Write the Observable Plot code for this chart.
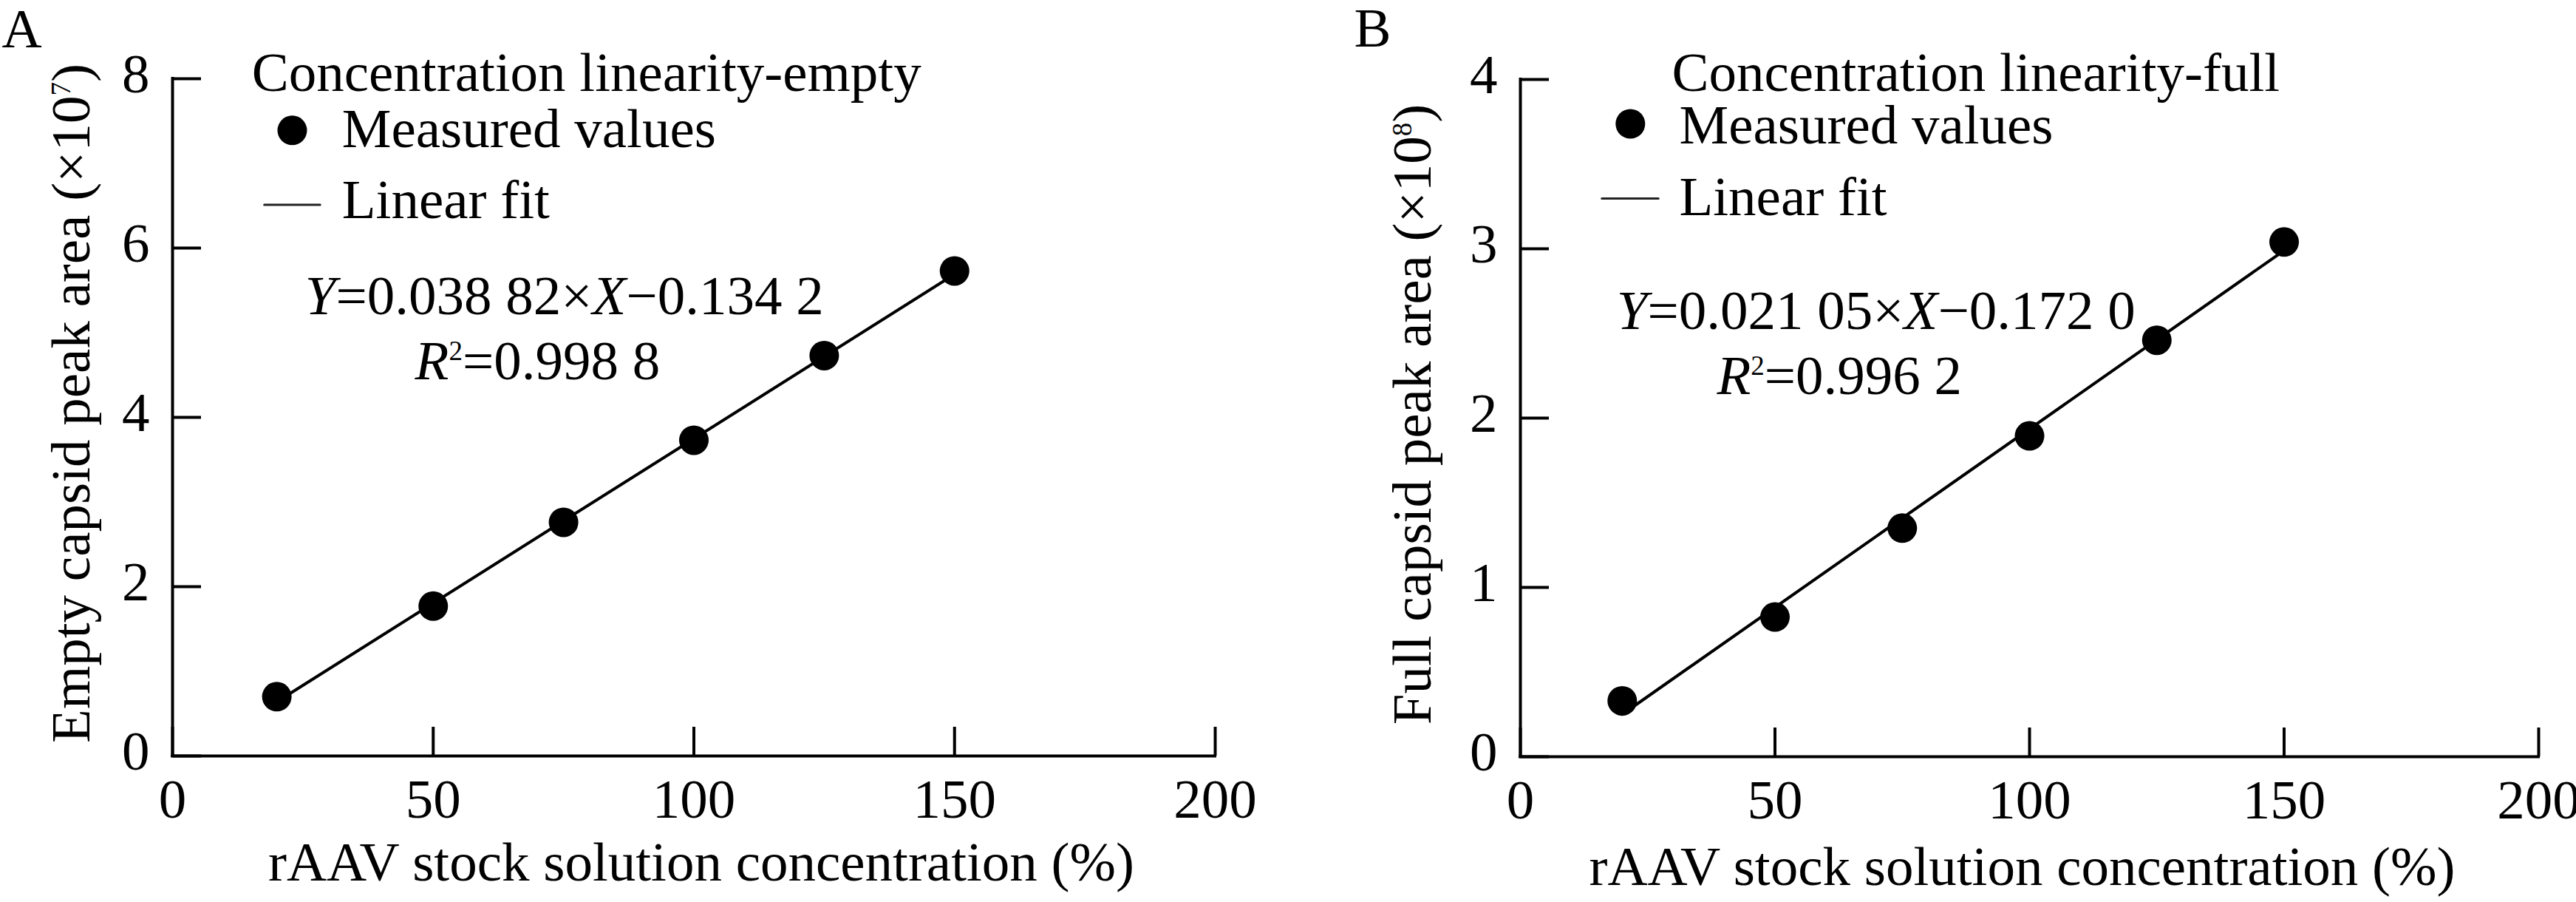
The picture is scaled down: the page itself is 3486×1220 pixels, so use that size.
<!DOCTYPE html>
<html>
<head>
<meta charset="utf-8">
<script src="https://cdn.jsdelivr.net/npm/d3@7"></script>
<script src="https://cdn.jsdelivr.net/npm/@observablehq/plot@0.6"></script>
<style>
  html, body { margin: 0; padding: 0; background: #fff; }
  #wrap { display: flex; width: 3486px; height: 1220px; }
  #wrap > svg { flex: none; display: block; }
</style>
</head>
<body>
<div id="wrap"></div>
<script>
// ---------- data ----------
const concentration = [20, 50, 75, 100, 125, 150];
const emptyArea = [0.70, 1.77, 2.76, 3.73, 4.73, 5.73];   // ×10^7
const fullArea  = [0.33, 0.825, 1.35, 1.895, 2.46, 3.04]; // ×10^8
const fitX = [20, 150];
const emptyFitY = [0.64, 5.69];
const fullFitY = [0.25, 2.99];
const xTicks = [0, 50, 100, 150, 200];
const emptyYTicks = [0, 2, 4, 6, 8];
const fullYTicks = [0, 1, 2, 3, 4];
const panelLetters = ["A", "B"];
const legendTitles = ["Concentration linearity-empty", "Concentration linearity-full"];
const legendLabels = ["Measured values", "Linear fit"];
const equations = ["*Y*=0.038 82×*X*−0.134 2", "*Y*=0.021 05×*X*−0.172 0"];
const r2Labels = ["*R*^2^=0.998 8", "*R*^2^=0.996 2"];
const xLabel = "rAAV stock solution concentration (%)";
const yLabels = ["Empty capsid peak area (×10^7^)", "Full capsid peak area (×10^8^)"];

// ---------- layout ----------
const FONT = '"Liberation Serif", "Times New Roman", serif';
const FS = 75;
const panels = [
  {
    values: emptyArea, fitY: emptyFitY, yDomain: [0, 8], yTicks: emptyYTicks,
    margins: {marginLeft: 233, marginRight: 99, marginTop: 106, marginBottom: 198},
    letter: {dx: -231, dy: -43}, ylab: {dx: -113, dy: -19}, xlab: {dx: 10, dy: 168},
    title: [15.2, 7.86], dot: [22.96, 7.39], measured: [32.5, 7.19],
    line: [17.6, 28.3, 6.51], fit: [32.5, 6.35], eq: [25.4, 5.22], r2: [46.5, 4.45]
  },
  {
    values: fullArea, fitY: fullFitY, yDomain: [0, 4], yTicks: fullYTicks,
    margins: {marginLeft: 314, marginRight: 51, marginTop: 107, marginBottom: 197},
    letter: {dx: -225, dy: -45}, ylab: {dx: -122, dy: -5}, xlab: {dx: -10, dy: 173},
    title: [29.75, 3.934], dot: [21.6, 3.738], measured: [31.2, 3.624],
    line: [16.0, 27.1, 3.297], fit: [31.2, 3.20], eq: [18.9, 2.528], r2: [38.6, 2.14]
  }
];

function richify(svg) {
  const SUP = 37, RAISE = 26;
  svg.querySelectorAll("text").forEach(t => {
    const s = t.textContent;
    if (s === "") { t.remove(); return; }
    if (!/[*^]/.test(s)) return;
    const segs = [];
    let it = false, sup = false, buf = "";
    const flush = () => { if (buf) segs.push({text: buf, it, sup}); buf = ""; };
    for (const ch of s) {
      if (ch === "*") { flush(); it = !it; }
      else if (ch === "^") { flush(); sup = !sup; }
      else buf += ch;
    }
    flush();
    t.textContent = "";
    let raised = false;
    for (const g of segs) {
      const ts = document.createElementNS("http://www.w3.org/2000/svg", "tspan");
      ts.textContent = g.text;
      if (g.it) ts.setAttribute("font-style", "italic");
      if (g.sup) ts.setAttribute("font-size", SUP);
      if (g.sup && !raised) { ts.setAttribute("dy", -RAISE); raised = true; }
      else if (!g.sup && raised) { ts.setAttribute("dy", RAISE); raised = false; }
      t.appendChild(ts);
    }
  });
}

const intFormat = d => String(d);

panels.forEach((p, i) => {
  const points = concentration.map((c, k) => ({x: c, y: p.values[k]}));
  const fit = fitX.map((c, k) => ({x: c, y: p.fitY[k]}));
  const txt = {fontSize: FS, fill: "black"};
  const plot = Plot.plot({
    width: 1743,
    height: 1220,
    ...p.margins,
    style: {fontFamily: FONT, fontSize: FS + "px", color: "black", background: "white", overflow: "visible"},
    x: {domain: [0, 200]},
    y: {domain: p.yDomain},
    marks: [
      // axis ticks (inward) and labels
      Plot.axisX(xTicks, {tickSize: -39, strokeWidth: 4, tickFormat: () => "", label: null}),
      Plot.axisX(xTicks, {tickSize: 0, tickPadding: 30, fontSize: FS, tickFormat: intFormat, label: null}),
      Plot.axisY(p.yTicks, {tickSize: -39, strokeWidth: 4, tickFormat: () => "", label: null}),
      Plot.axisY(p.yTicks, {tickSize: 0, tickPadding: 31, dy: -6, fontSize: FS, tickFormat: intFormat, label: null}),
      Plot.ruleY([0], {strokeWidth: 4, strokeLinecap: "square"}),
      Plot.ruleX([0], {strokeWidth: 4, strokeLinecap: "square"}),
      // fit line and measured points
      Plot.line(fit, {x: "x", y: "y", stroke: "black", strokeWidth: 4}),
      Plot.dot(points, {x: "x", y: "y", r: 20, fill: "black", stroke: "none"}),
      // legend
      Plot.text([legendTitles[i]], {x: p.title[0], y: p.title[1], text: d => d, textAnchor: "start", lineAnchor: "bottom", ...txt}),
      Plot.dot([0], {x: p.dot[0], y: p.dot[1], r: 20, fill: "black", stroke: "none"}),
      Plot.text([legendLabels[0]], {x: p.measured[0], y: p.measured[1], text: d => d, textAnchor: "start", lineAnchor: "bottom", ...txt}),
      Plot.line([[p.line[0], p.line[2]], [p.line[1], p.line[2]]], {x: d => d[0], y: d => d[1], stroke: "#222", strokeWidth: 3}),
      Plot.text([legendLabels[1]], {x: p.fit[0], y: p.fit[1], text: d => d, textAnchor: "start", lineAnchor: "bottom", ...txt}),
      // equation
      Plot.text([equations[i]], {x: p.eq[0], y: p.eq[1], text: d => d, textAnchor: "start", lineAnchor: "bottom", ...txt}),
      Plot.text([r2Labels[i]], {x: p.r2[0], y: p.r2[1], text: d => d, textAnchor: "start", lineAnchor: "bottom", ...txt}),
      // panel letter and axis titles
      Plot.text([panelLetters[i]], {frameAnchor: "top-left", dx: p.letter.dx, dy: p.letter.dy, text: d => d, textAnchor: "start", lineAnchor: "bottom", ...txt}),
      Plot.text([xLabel], {frameAnchor: "bottom", dx: p.xlab.dx, dy: p.xlab.dy, text: d => d, textAnchor: "middle", lineAnchor: "bottom", ...txt}),
      Plot.text([yLabels[i]], {frameAnchor: "left", rotate: -90, dx: p.ylab.dx, dy: p.ylab.dy, text: d => d, textAnchor: "middle", lineAnchor: "bottom", ...txt})
    ]
  });
  richify(plot);
  document.getElementById("wrap").appendChild(plot);
});
</script>
</body>
</html>
